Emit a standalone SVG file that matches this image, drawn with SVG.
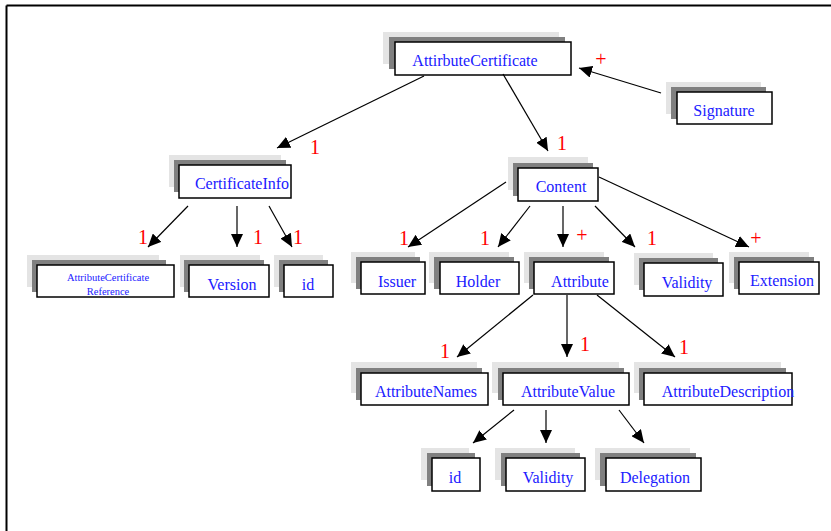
<svg xmlns="http://www.w3.org/2000/svg" width="831" height="531" viewBox="0 0 831 531">
  <style>
    .sh1 { fill: #e4e4e4; }
    .sh2 { fill: #808080; }
    .box { fill: #ffffff; stroke: #000000; stroke-width: 1.5; }
    .lbl { font-family: "Liberation Serif", "Times New Roman", serif; font-size: 16px; fill: #2020ff; text-anchor: middle; }
    .sm { font-size: 10.5px; }
    .mult { font-family: "Liberation Serif", "Times New Roman", serif; font-size: 20px; fill: #ff0000; text-anchor: middle; }
    .edge { stroke: #000000; stroke-width: 1.2; fill: none; marker-end: url(#arrow); }
    .frame { stroke: #000000; stroke-width: 2; fill: none; }
  </style>
  <defs>
    <marker id="arrow" markerUnits="userSpaceOnUse" markerWidth="14" markerHeight="12" refX="13" refY="6" orient="auto">
      <path d="M0,0 L13,6 L0,12 z" fill="#000000"/>
    </marker>
  </defs>

  <rect width="831" height="531" fill="#ffffff"/>
  <path class="frame" d="M6.5,5.5 H831 M6.5,5.5 V531"/>

  <!-- nodes: light shadow, dark shadow, white box, label -->
  <g id="attribute-certificate">
    <rect class="sh1" x="383" y="32" width="176" height="32"/>
    <rect class="sh2" x="389" y="37" width="176" height="32"/>
    <rect class="box" x="395" y="42" width="176" height="33"/>
    <text class="lbl" x="475" y="66">AttirbuteCertificate</text>
  </g>
  <g id="signature">
    <rect class="sh1" x="666" y="82" width="95" height="32"/>
    <rect class="sh2" x="671" y="87" width="95" height="32"/>
    <rect class="box" x="677" y="92" width="95" height="32"/>
    <text class="lbl" x="724" y="116">Signature</text>
  </g>
  <g id="certificate-info">
    <rect class="sh1" x="169" y="155" width="112" height="32"/>
    <rect class="sh2" x="174" y="160" width="112" height="32"/>
    <rect class="box" x="179" y="165" width="112" height="33"/>
    <text class="lbl" x="242" y="189">CertificateInfo</text>
  </g>
  <g id="content">
    <rect class="sh1" x="508" y="157" width="80" height="33"/>
    <rect class="sh2" x="513" y="163" width="80" height="33"/>
    <rect class="box" x="518" y="168" width="80" height="33"/>
    <text class="lbl" x="561" y="192">Content</text>
  </g>
  <g id="ac-reference">
    <rect class="sh1" x="27" y="255" width="132" height="32"/>
    <rect class="sh2" x="32" y="260" width="134" height="32"/>
    <rect class="box" x="37" y="265" width="137" height="32"/>
    <text class="lbl sm" x="108" y="281">AttributeCertificate</text>
    <text class="lbl sm" x="108" y="295">Reference</text>
  </g>
  <g id="version">
    <rect class="sh1" x="180" y="255" width="80" height="32"/>
    <rect class="sh2" x="184" y="260" width="80" height="32"/>
    <rect class="box" x="189" y="265" width="80" height="32"/>
    <text class="lbl" x="232" y="290">Version</text>
  </g>
  <g id="cert-id">
    <rect class="sh1" x="274" y="255" width="49" height="32"/>
    <rect class="sh2" x="279" y="260" width="49" height="32"/>
    <rect class="box" x="284" y="265" width="49" height="32"/>
    <text class="lbl" x="308" y="290">id</text>
  </g>
  <g id="issuer">
    <rect class="sh1" x="351" y="252" width="64" height="31"/>
    <rect class="sh2" x="356" y="257" width="64" height="32"/>
    <rect class="box" x="361" y="262" width="64" height="32"/>
    <text class="lbl" x="397" y="287">Issuer</text>
  </g>
  <g id="holder">
    <rect class="sh1" x="429" y="252" width="80" height="31"/>
    <rect class="sh2" x="434" y="257" width="80" height="32"/>
    <rect class="box" x="440" y="262" width="79" height="32"/>
    <text class="lbl" x="478" y="287">Holder</text>
  </g>
  <g id="attribute">
    <rect class="sh1" x="524" y="252" width="80" height="31"/>
    <rect class="sh2" x="529" y="257" width="80" height="32"/>
    <rect class="box" x="534" y="262" width="80" height="32"/>
    <text class="lbl" x="580" y="287">Attribute</text>
  </g>
  <g id="validity">
    <rect class="sh1" x="634" y="253" width="79" height="32"/>
    <rect class="sh2" x="639" y="258" width="79" height="32"/>
    <rect class="box" x="644" y="263" width="79" height="33"/>
    <text class="lbl" x="687" y="288">Validity</text>
  </g>
  <g id="extension">
    <rect class="sh1" x="729" y="252" width="80" height="31"/>
    <rect class="sh2" x="734" y="257" width="80" height="32"/>
    <rect class="box" x="739" y="262" width="80" height="32"/>
    <text class="lbl" x="782" y="286">Extension</text>
  </g>
  <g id="attribute-names">
    <rect class="sh1" x="351" y="362" width="126" height="31"/>
    <rect class="sh2" x="356" y="368" width="126" height="32"/>
    <rect class="box" x="361" y="373" width="127" height="32"/>
    <text class="lbl" x="426" y="397">AttributeNames</text>
  </g>
  <g id="attribute-value">
    <rect class="sh1" x="492" y="362" width="127" height="31"/>
    <rect class="sh2" x="498" y="368" width="126" height="32"/>
    <rect class="box" x="503" y="373" width="126" height="32"/>
    <text class="lbl" x="568" y="397">AttributeValue</text>
  </g>
  <g id="attribute-description">
    <rect class="sh1" x="634" y="362" width="147" height="31"/>
    <rect class="sh2" x="639" y="368" width="147" height="32"/>
    <rect class="box" x="644" y="373" width="148" height="32"/>
    <text class="lbl" x="728" y="397">AttributeDescription</text>
  </g>
  <g id="value-id">
    <rect class="sh1" x="421" y="448" width="48" height="32"/>
    <rect class="sh2" x="427" y="453" width="48" height="33"/>
    <rect class="box" x="432" y="458" width="48" height="33"/>
    <text class="lbl" x="455" y="483">id</text>
  </g>
  <g id="value-validity">
    <rect class="sh1" x="495" y="448" width="80" height="32"/>
    <rect class="sh2" x="501" y="453" width="79" height="33"/>
    <rect class="box" x="506" y="458" width="79" height="33"/>
    <text class="lbl" x="548" y="483">Validity</text>
  </g>
  <g id="delegation">
    <rect class="sh1" x="595" y="448" width="95" height="32"/>
    <rect class="sh2" x="600" y="453" width="96" height="33"/>
    <rect class="box" x="606" y="458" width="95" height="33"/>
    <text class="lbl" x="655" y="483">Delegation</text>
  </g>

  <!-- connectors -->
  <g id="connectors">
    <line class="edge" x1="661" y1="93" x2="579" y2="68"/>
    <line class="edge" x1="424" y1="76" x2="277" y2="148"/>
    <line class="edge" x1="503" y1="74" x2="548" y2="151"/>

    <line class="edge" x1="188" y1="206" x2="148" y2="247"/>
    <line class="edge" x1="237" y1="206" x2="237" y2="247"/>
    <line class="edge" x1="269" y1="206" x2="292" y2="247"/>

    <line class="edge" x1="506" y1="182" x2="408" y2="247"/>
    <line class="edge" x1="530" y1="206" x2="498" y2="247"/>
    <line class="edge" x1="563" y1="206" x2="563" y2="247"/>
    <line class="edge" x1="595" y1="206" x2="635" y2="247"/>
    <line class="edge" x1="599" y1="177" x2="749" y2="247"/>

    <line class="edge" x1="533" y1="295" x2="457" y2="357"/>
    <line class="edge" x1="567" y1="295" x2="567" y2="357"/>
    <line class="edge" x1="597" y1="295" x2="675" y2="357"/>

    <line class="edge" x1="514" y1="410" x2="473" y2="443"/>
    <line class="edge" x1="546" y1="410" x2="546" y2="443"/>
    <line class="edge" x1="619" y1="410" x2="644" y2="443"/>
  </g>

  <!-- multiplicities -->
  <g id="multiplicities">
    <text class="mult" x="601" y="66">+</text>
    <text class="mult" x="315" y="154">1</text>
    <text class="mult" x="562" y="150">1</text>
    <text class="mult" x="143" y="244">1</text>
    <text class="mult" x="258" y="244">1</text>
    <text class="mult" x="298" y="244">1</text>
    <text class="mult" x="404" y="245">1</text>
    <text class="mult" x="485" y="245">1</text>
    <text class="mult" x="582" y="242">+</text>
    <text class="mult" x="652" y="245">1</text>
    <text class="mult" x="756" y="245">+</text>
    <text class="mult" x="445" y="358">1</text>
    <text class="mult" x="585" y="351">1</text>
    <text class="mult" x="684" y="354">1</text>
  </g>
</svg>
